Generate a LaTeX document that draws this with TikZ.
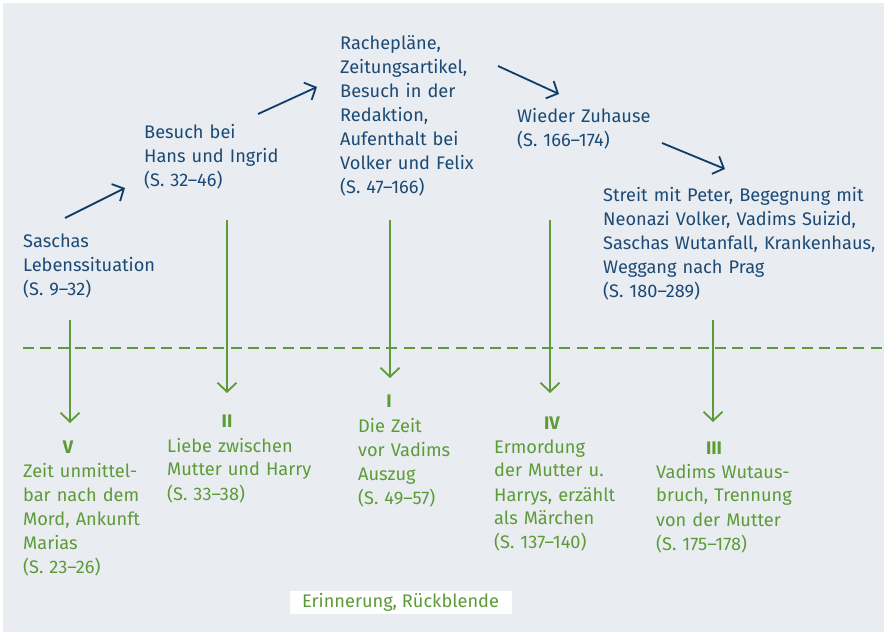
\documentclass[tikz,border=0pt]{standalone}
\usepackage{fontspec}
\setmainfont{Fira Sans}
\usetikzlibrary{arrows.meta}

\definecolor{plotblue}{HTML}{1B4A75}
\definecolor{arrowblue}{HTML}{0F3D66}
\definecolor{recallgreen}{HTML}{5C9B37}
\definecolor{panelgray}{HTML}{E9ECF1}

\begin{document}
\begin{tikzpicture}[x=1pt,y=-1pt,
    story/.style={anchor=base west, align=left, text width=300pt,
      inner sep=0pt, text=plotblue, font=\fontsize{18.2}{24}\selectfont},
    recall/.style={story, text=recallgreen},
    numeral/.style={anchor=base, inner sep=0pt, text=recallgreen,
      font=\fontsize{18.2}{24}\selectfont\bfseries},
    ahead/.style={draw=arrowblue, line width=1.8pt,
      -{Straight Barb[length=9pt,width=19pt]}},
    back/.style={draw=recallgreen, line width=1.8pt,
      -{Straight Barb[length=9pt,width=19pt]}}]

  % Background panel
  \useasboundingbox (0,0) rectangle (884,636);
  \fill[panelgray] (3,3) rectangle (884,632);

  % Story line (present), left to right
  \node[story] (sascha) at (23,248)
    {Saschas\\Lebenssituation\\(S. 9–32)};
  \node[story] (besuch) at (144,139)
    {Besuch bei\\Hans und Ingrid\\(S. 32–46)};
  \node[story] (rache) at (340,50)
    {Rachepläne,\\Zeitungsartikel,\\Besuch in der\\Redaktion,\\Aufenthalt bei\\Volker und Felix\\(S. 47–166)};
  \node[story] (zuhause) at (517,123)
    {Wieder Zuhause\\(S. 166–174)};
  \node[story] (streit) at (603,202)
    {Streit mit Peter, Begegnung mit\\Neonazi Volker, Vadims Suizid,\\Saschas Wutanfall, Krankenhaus,\\Weggang nach Prag\\(S. 180–289)};

  % Arrows between the stations
  \coordinate (a1) at (65,218);   \coordinate (b1) at (125,188);
  \coordinate (a2) at (258,114);  \coordinate (b2) at (317,87);
  \coordinate (a3) at (498,66);   \coordinate (b3) at (559,94);
  \coordinate (a4) at (662,143);  \coordinate (b4) at (725,169);
  \draw[ahead] (a1) -- (b1);
  \draw[ahead] (a2) -- (b2);
  \draw[ahead] (a3) -- (b3);
  \draw[ahead] (a4) -- (b4);

  % Dashed border between present and memory
  \coordinate (lineL) at (23,348);
  \coordinate (lineR) at (884,348);
  \draw[recallgreen, line width=2pt, dash pattern=on 11pt off 6.3pt] (lineL) -- (lineR);

  % Flashbacks (numbered as they appear)
  \node[numeral] (nV) at (68,453) {V};
  \node[recall] (fV) at (23,477)
    {Zeit unmittel-\\bar nach dem\\Mord, Ankunft\\Marias\\(S. 23–26)};
  \node[numeral] (nII) at (227,427) {II};
  \node[recall] (fII) at (167,452)
    {Liebe zwischen\\Mutter und Harry\\(S. 33–38)};
  \node[numeral] (nI) at (389,407) {I};
  \node[recall] (fI) at (358,432)
    {Die Zeit\\vor Vadims\\Auszug\\(S. 49–57)};
  \node[numeral] (nIV) at (552,429) {IV};
  \node[recall] (fIV) at (494,453)
    {Ermordung\\der Mutter u.\\Harrys, erzählt\\als Märchen\\(S. 137–140)};
  \node[numeral] (nIII) at (714,454) {III};
  \node[recall] (fIII) at (656,478)
    {Vadims Wutaus-\\bruch, Trennung\\von der Mutter\\(S. 175–178)};

  % Arrows down into the memories
  \coordinate (tV) at (70,320);    \coordinate (hV) at (70,423);
  \coordinate (tII) at (227,220);  \coordinate (hII) at (227,393);
  \coordinate (tI) at (390,220);   \coordinate (hI) at (390,378);
  \coordinate (tIV) at (550,220);  \coordinate (hIV) at (550,393);
  \coordinate (tIII) at (713,320); \coordinate (hIII) at (713,422);
  \draw[back] (tV) -- (hV);
  \draw[back] (tII) -- (hII);
  \draw[back] (tI) -- (hI);
  \draw[back] (tIV) -- (hIV);
  \draw[back] (tIII) -- (hIII);

  % Legend
  \node[fill=white, text=recallgreen, font=\fontsize{18.2}{24}\selectfont,
    minimum width=222pt, minimum height=23pt, inner sep=0pt] (legend)
    at (400.5,602.5) {Erinnerung, Rückblende};
\end{tikzpicture}
\end{document}
